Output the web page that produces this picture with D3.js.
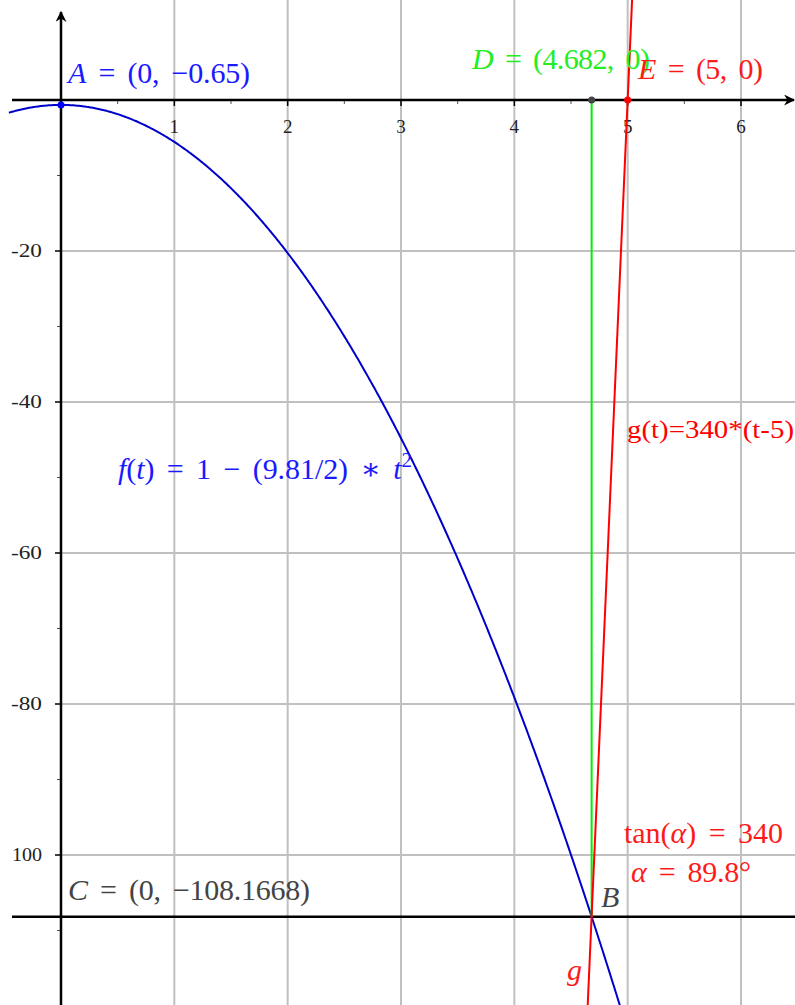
<!DOCTYPE html>
<html>
<head>
<meta charset="utf-8">
<script src="https://cdn.jsdelivr.net/npm/d3@7"></script>
<style>
  body { margin: 0; background: #fff; }
  text { font-family: "Liberation Serif", "DejaVu Serif", serif; }
</style>
</head>
<body>
<div id="chart"></div>
<script>
// data
var xTicks = [1, 2, 3, 4, 5, 6];
var xMinor = [0.5, 1.5, 2.5, 3.5, 4.5, 5.5, 6.5];
var yTicks = [-20, -40, -60, -80, -100];
var yTickLabels = ["-20", "-40", "-60", "-80", "100"];
var yMinor = [-10, -30, -50, -70, -90, -110];
var pointA = [0, -0.65];
var pointD = [4.682, 0];
var pointE = [5, 0];
var pointB = [4.682, -108.1668];
var slope = 340, rootE = 5;

var width = 795, height = 1005;

var x = d3.scaleLinear().domain([0, 6]).range([61, 741]);
var y = d3.scaleLinear().domain([0, -100]).range([100, 855]);

function f(t) { return pointA[1] - (9.81 / 2) * t * t; }
function g(t) { return slope * (t - rootE); }

var svg = d3.select("#chart").append("svg")
  .attr("width", width).attr("height", height);

var defs = svg.append("defs");
defs.append("marker").attr("id", "arr")
  .attr("viewBox", "0 0 10 10").attr("refX", 9).attr("refY", 5)
  .attr("markerWidth", 11).attr("markerHeight", 11)
  .attr("markerUnits", "userSpaceOnUse")
  .attr("orient", "auto")
  .append("path").attr("d", "M0,0 L10,5 L0,10 L3,5 Z").attr("fill", "#000");

// grid
svg.append("g").selectAll("line").data(xTicks).enter().append("line")
  .attr("x1", d => x(d)).attr("x2", d => x(d))
  .attr("y1", 0).attr("y2", height)
  .attr("stroke", "#c0c0c0").attr("stroke-width", 2);
svg.append("g").selectAll("line").data(yTicks).enter().append("line")
  .attr("x1", x(0)).attr("x2", width)
  .attr("y1", d => y(d)).attr("y2", d => y(d))
  .attr("stroke", "#c0c0c0").attr("stroke-width", 2);

// minor ticks
svg.append("g").selectAll("line").data(xMinor).enter().append("line")
  .attr("x1", d => x(d)).attr("x2", d => x(d))
  .attr("y1", y(0)).attr("y2", y(0) + 4)
  .attr("stroke", "#555").attr("stroke-width", 1);
svg.append("g").selectAll("line").data(xTicks).enter().append("line")
  .attr("x1", d => x(d)).attr("x2", d => x(d))
  .attr("y1", y(0)).attr("y2", y(0) + 6)
  .attr("stroke", "#000").attr("stroke-width", 1.5);
svg.append("g").selectAll("line").data(yMinor).enter().append("line")
  .attr("x1", x(0) - 4).attr("x2", x(0))
  .attr("y1", d => y(d)).attr("y2", d => y(d))
  .attr("stroke", "#555").attr("stroke-width", 1);
svg.append("g").selectAll("line").data(yTicks).enter().append("line")
  .attr("x1", x(0) - 6).attr("x2", x(0))
  .attr("y1", d => y(d)).attr("y2", d => y(d))
  .attr("stroke", "#000").attr("stroke-width", 1.5);

// tick labels
svg.append("g").selectAll("text").data(xTicks).enter().append("text")
  .attr("x", d => x(d)).attr("y", y(0) + 33)
  .attr("text-anchor", "middle").attr("font-size", 19).attr("fill", "#222")
  .text(d => d);
svg.append("g").selectAll("text").data(yTicks).enter().append("text")
  .attr("x", 42).attr("y", d => y(d) + 6)
  .attr("text-anchor", "end").attr("font-size", 19).attr("fill", "#222")
  .attr("textLength", (d, i) => yTickLabels[i].charAt(0) === "-" ? 31 : 30)
  .attr("lengthAdjust", "spacingAndGlyphs")
  .text((d, i) => yTickLabels[i]);

// axes
svg.append("line").attr("x1", 12).attr("x2", width - 1)
  .attr("y1", y(0)).attr("y2", y(0))
  .attr("stroke", "#000").attr("stroke-width", 2.5).attr("marker-end", "url(#arr)");
svg.append("line").attr("x1", x(0)).attr("x2", x(0))
  .attr("y1", height).attr("y2", 12)
  .attr("stroke", "#000").attr("stroke-width", 2.5).attr("marker-end", "url(#arr)");

// horizontal line through C and B
svg.append("line").attr("x1", 12).attr("x2", width)
  .attr("y1", y(pointB[1])).attr("y2", y(pointB[1]))
  .attr("stroke", "#000").attr("stroke-width", 2.5);

// curve f
var ts = d3.range(-0.46, 4.95, 0.01);
var line = d3.line().x(d => x(d)).y(d => y(f(d)));
svg.append("path").attr("d", line(ts))
  .attr("fill", "none").attr("stroke", "#0000cc").attr("stroke-width", 2);

// vertical D to B
svg.append("line").attr("x1", x(pointD[0])).attr("x2", x(pointB[0]))
  .attr("y1", y(pointD[1])).attr("y2", y(pointB[1]))
  .attr("stroke", "#00ee00").attr("stroke-width", 2);

// line g
var gLine = d3.line().x(d => x(d)).y(d => y(g(d)));
svg.append("path").attr("d", gLine([4.64, 5.045]))
  .attr("fill", "none").attr("stroke", "#ff0000").attr("stroke-width", 2);

// points
svg.append("circle").attr("cx", x(pointA[0])).attr("cy", y(pointA[1])).attr("r", 3.5).attr("fill", "#0000ff");
svg.append("circle").attr("cx", x(pointD[0])).attr("cy", y(pointD[1])).attr("r", 3.5).attr("fill", "#444");
svg.append("circle").attr("cx", x(pointE[0])).attr("cy", y(pointE[1])).attr("r", 3.5).attr("fill", "#ff0000");

// labels (word-spacing widens around "=" like LaTeX, textLength trims the rest)
function mathLabel(parts, px, py, color, size, len) {
  var t = svg.append("text").attr("x", px).attr("y", py)
    .attr("font-size", size).attr("fill", color)
    .attr("word-spacing", 5);
  parts.forEach(function(p) {
    var s = t.append("tspan").text(p[0]);
    if (p[1]) s.attr("font-style", "italic");
    if (p[2]) s.attr("font-size", size * 0.7).attr("dy", p[2]);
  });
  if (len) t.attr("textLength", len).attr("lengthAdjust", "spacing");
  return t;
}
mathLabel([["A", 1], [" = (0, \u22120.65)"]], 68, 83, "#1a1aff", 30, 182);
mathLabel([["D", 1], [" = (4.682, 0)"]], 472, 69, "#22ee22", 30, 178);
mathLabel([["E", 1], [" = (5, 0)"]], 638, 79, "#ff1a1a", 30, 125);
mathLabel([["f", 1], ["("], ["t", 1], [") = 1 \u2212 (9.81/2) \u2217 "], ["t", 1], ["2", 0, -12]], 118, 479, "#1a1aff", 30, 294);
svg.append("text").attr("x", 627).attr("y", 438)
  .attr("font-size", 25).attr("fill", "#ff0000")
  .attr("textLength", 167).attr("lengthAdjust", "spacingAndGlyphs")
  .text("g(t)=340*(t-5)");
mathLabel([["tan("], ["\u03b1", 1], [") = 340"]], 624, 843, "#ff1a1a", 30, 159);
mathLabel([["\u03b1", 1], [" = 89.8\u00b0"]], 631, 882, "#ff1a1a", 30, 120);
mathLabel([["B", 1]], 601, 907, "#444", 30);
mathLabel([["C", 1], [" = (0, \u2212108.1668)"]], 68, 900, "#444", 30, 242);
mathLabel([["g", 1]], 567, 980, "#ff1a1a", 30);
</script>
</body>
</html>
